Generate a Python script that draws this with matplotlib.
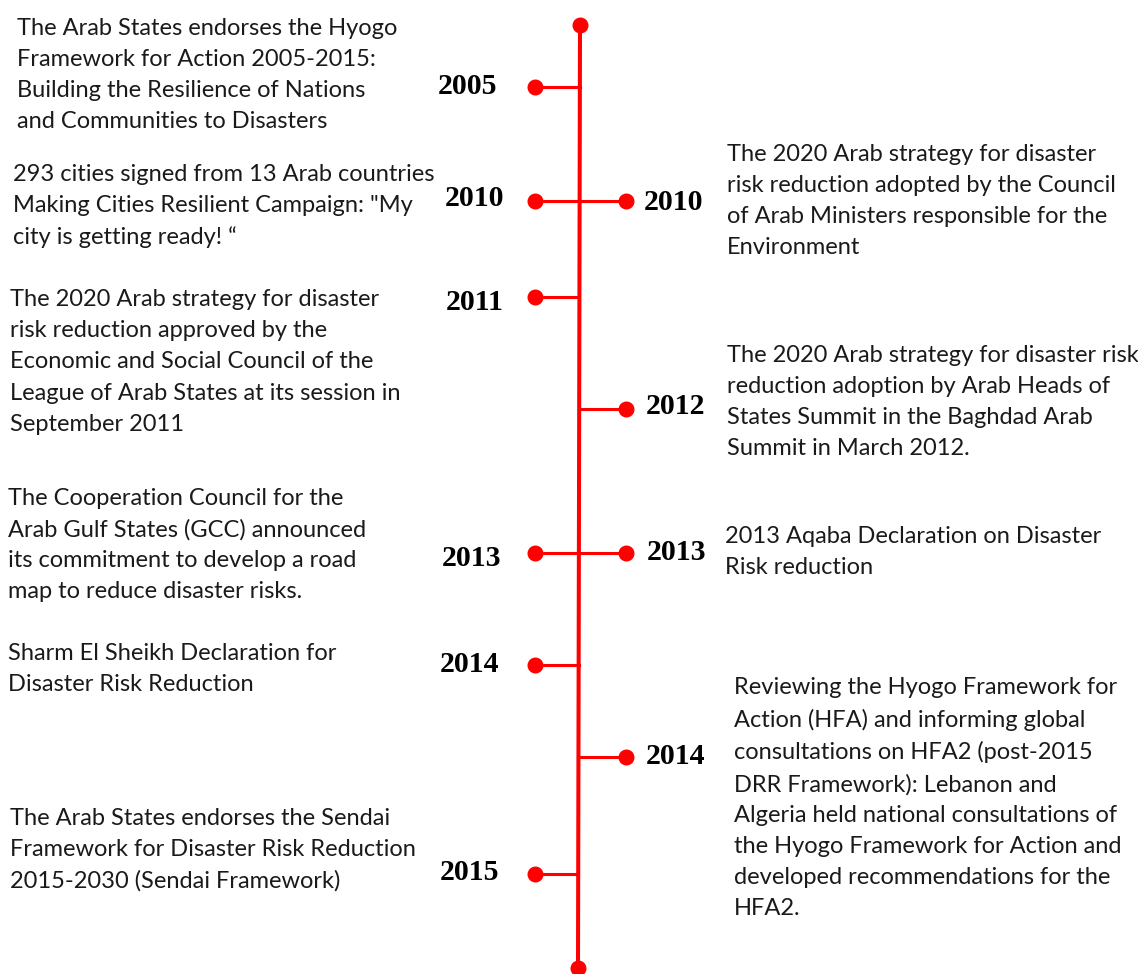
import matplotlib.pyplot as plt

# events on the timeline
years = ["2005", "2010", "2010", "2011", "2012", "2013", "2013", "2014", "2014", "2015"]
sides = ["left", "left", "right", "left", "right", "left", "right", "left", "right", "left"]
texts = [
    "The Arab States endorses the Hyogo\nFramework for Action 2005-2015:\nBuilding the Resilience of Nations\nand Communities to Disasters",
    "293 cities signed from 13 Arab countries\nMaking Cities Resilient Campaign: \"My\ncity is getting ready! \u201c",
    "The 2020 Arab strategy for disaster\nrisk reduction adopted by the Council\nof Arab Ministers responsible for the\nEnvironment",
    "The 2020 Arab strategy for disaster\nrisk reduction approved by the\nEconomic and Social Council of the\nLeague of Arab States at its session in\nSeptember 2011",
    "The 2020 Arab strategy for disaster risk\nreduction adoption by Arab Heads of\nStates Summit in the Baghdad Arab\nSummit in March 2012.",
    "The Cooperation Council for the\nArab Gulf States (GCC) announced\nits commitment to develop a road\nmap to reduce disaster risks.",
    "2013 Aqaba Declaration on Disaster\nRisk reduction",
    "Sharm El Sheikh Declaration for\nDisaster Risk Reduction",
    "Reviewing the Hyogo Framework for\nAction (HFA) and informing global\nconsultations on HFA2 (post-2015\nDRR Framework): Lebanon and\nAlgeria held national consultations of\nthe Hyogo Framework for Action and\ndeveloped recommendations for the\nHFA2.",
    "The Arab States endorses the Sendai\nFramework for Disaster Risk Reduction\n2015-2030 (Sendai Framework)",
]

# layout (pixel coordinates of the picture)
branch_y = [87, 201, 201, 297, 409, 553, 553, 665, 757, 874]
year_x = [497, 504, 644, 504, 646, 501, 647, 499, 646, 499]
year_y = [86, 198, 203, 303, 407, 558, 552, 665, 757, 873]
text_x = [17, 13, 727, 10, 727, 8, 725, 8, 734, 10]
text_y = [75, 206, 201, 362, 402, 545, 552, 669, 798, 850]

RED = "#ff0000"

fig = plt.figure(figsize=(11.38, 9.74), dpi=100)
ax = fig.add_axes([0, 0, 1, 1])
ax.set_xlim(0, 1138)
ax.set_ylim(974, 0)
ax.axis("off")


def spine_x(y):
    # the main line leans a little
    return 580 + (578 - 580) * (y - 25) / (968 - 25)


ax.plot([580, 578], [25, 968], color=RED, lw=2.9, solid_capstyle="butt", zorder=2)
ax.plot([580, 578], [25, 968], "o", color=RED, ms=10.5, zorder=3)

for yr, side, txt, by, yx, yy, tx, ty in zip(years, sides, texts, branch_y, year_x, year_y, text_x, text_y):
    sx = spine_x(by)
    dot_x = 535 if side == "left" else 626
    ax.text(yx, yy, yr, ha="right" if side == "left" else "left", va="center",
            fontsize=21.5, family="Liberation Serif", weight="bold", color="black")
    ax.plot([dot_x, sx], [by, by], color=RED, lw=2.2, zorder=2)
    ax.plot([dot_x], [by], "o", color=RED, ms=10.5, zorder=3)
    ax.text(tx, ty, txt, ha="left", va="center", fontsize=17, family="Lato",
            color="#1a1a1a", linespacing=1.59)

fig.savefig("out.png", dpi=100)
